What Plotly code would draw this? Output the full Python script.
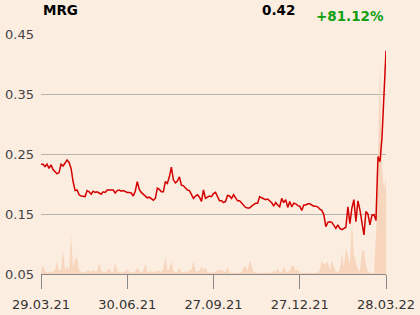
import plotly.graph_objects as go

ticker = "MRG"
last_price = "0.42"
change = "+81.12%"
tick_labels = ["29.03.21", "30.06.21", "27.09.21", "27.12.21", "28.03.22"]
y_ticks = [0.05, 0.15, 0.25, 0.35, 0.45]

price = [
    0.233, 0.233, 0.229, 0.233, 0.226, 0.232, 0.224, 0.220, 0.217, 0.219,
    0.233, 0.230, 0.236, 0.240, 0.236, 0.226, 0.204, 0.189, 0.190, 0.182,
    0.180, 0.179, 0.179, 0.189, 0.187, 0.183, 0.188, 0.186, 0.187, 0.185,
    0.183, 0.187, 0.186, 0.190, 0.190, 0.191, 0.190, 0.185, 0.189, 0.190,
    0.188, 0.189, 0.187, 0.186,
    0.186, 0.185, 0.180, 0.188, 0.204, 0.191, 0.186, 0.183, 0.180, 0.177,
    0.178, 0.175, 0.173, 0.176, 0.193, 0.191, 0.187, 0.187, 0.204, 0.201,
    0.212, 0.228, 0.207, 0.202, 0.205, 0.212, 0.198, 0.197, 0.193, 0.190,
    0.189, 0.183, 0.176, 0.180, 0.182, 0.178, 0.171, 0.190, 0.176, 0.178,
    0.180, 0.179, 0.184,
    0.186, 0.178, 0.172, 0.172, 0.169, 0.171, 0.181, 0.180, 0.176, 0.182,
    0.176, 0.172, 0.172, 0.168, 0.164, 0.161, 0.160, 0.160, 0.163, 0.165,
    0.168, 0.168, 0.179, 0.177, 0.176, 0.174, 0.175, 0.172, 0.169, 0.163,
    0.169, 0.165, 0.162, 0.176, 0.169, 0.174, 0.161, 0.171, 0.162, 0.168,
    0.167, 0.164, 0.163, 0.156, 0.165, 0.165,
    0.167, 0.167, 0.165, 0.163, 0.163, 0.162, 0.158, 0.156, 0.149, 0.129,
    0.136, 0.137, 0.136, 0.130, 0.126, 0.132, 0.126, 0.124, 0.126, 0.128,
    0.162, 0.134, 0.160, 0.174, 0.137, 0.172, 0.157, 0.132, 0.115, 0.154,
    0.150, 0.132, 0.148, 0.149, 0.139, 0.246, 0.237, 0.277, 0.350, 0.422,
]

volume = [
    0.10, 0.38, 0.12, 0.06, 0.08, 0.07, 0.09, 0.15, 0.54, 0.12,
    0.20, 1.00, 0.15, 0.30, 0.18, 1.62, 0.25, 0.62, 0.67, 0.15,
    0.08, 0.06, 0.07, 0.12, 0.15, 0.08, 0.18, 0.10, 0.12, 0.46,
    0.15, 0.08, 0.06, 0.15, 0.25, 0.10, 0.07, 0.46, 0.12, 0.08,
    0.06, 0.10, 0.08, 0.20, 0.06, 0.05, 0.08, 0.10, 0.25, 0.12,
    0.06, 0.15, 0.42, 0.10, 0.08, 0.12, 0.06, 0.10, 0.15, 0.12,
    0.08, 0.20, 0.70, 0.15, 0.20, 0.54, 0.12, 0.08, 0.10, 0.25,
    0.08, 0.06, 0.12, 0.08, 0.15, 0.20, 0.54, 0.15, 0.10, 0.12,
    0.30, 0.20, 0.25, 0.08, 0.06, 0.05, 0.06, 0.08, 0.18, 0.12,
    0.20, 0.10, 0.08, 0.30, 0.06, 0.04, 0.04, 0.05, 0.04, 0.05,
    0.08, 0.28, 0.33, 0.10, 0.58, 0.35, 0.08, 0.05, 0.04, 0.03,
    0.04, 0.05, 0.06, 0.04, 0.05, 0.06, 0.12, 0.08, 0.25, 0.08,
    0.06, 0.30, 0.10, 0.08, 0.15, 0.33, 0.33, 0.12, 0.20, 0.06,
    0.04, 0.03, 0.04, 0.05, 0.04, 0.03, 0.04, 0.05, 0.06, 0.15,
    0.55, 0.40, 0.45, 0.50, 0.15, 0.58, 0.30, 0.10, 0.08, 0.20,
    0.87, 0.30, 1.08, 0.80, 0.35, 2.25, 0.80, 0.50, 0.20, 0.10,
    0.95, 1.00, 0.40, 0.08, 0.05, 0.04, 0.05, 1.60, 4.60, 8.83,
    4.46, 3.50, 4.04,
]

n = len(price)
x = list(range(n))
tickvals = [round(k * (n - 1) / 4) for k in range(5)]

bg = "#fcede1"
font_family = "DejaVu Sans"

fig = go.Figure()
# volume on main (hidden) axis, drawn underneath
fig.add_trace(go.Scatter(
    x=x, y=volume, yaxis="y", mode="lines",
    line=dict(width=0, color="rgba(0,0,0,0)"),
    fill="tozeroy", fillcolor="#f7d6bd", hoverinfo="skip",
))
# price on overlaying axis, drawn on top
fig.add_trace(go.Scatter(
    x=x, y=price, yaxis="y2", mode="lines",
    line=dict(color="#d40000", width=1.5),
))

fig.update_layout(
    width=420, height=315,
    margin=dict(l=41, r=34, t=34, b=41, autoexpand=False),
    paper_bgcolor=bg, plot_bgcolor=bg,
    showlegend=False,
    font=dict(family=font_family, size=13, color="#333333"),
    xaxis=dict(
        range=[0, n - 1], tickvals=tickvals, ticktext=tick_labels,
        ticks="outside", ticklen=14, tickcolor="#888888", tickwidth=1,
        showline=True, linecolor="#888888", linewidth=1,
        showgrid=False, zeroline=False, automargin=False,
        ticklabelstandoff=4,
        tickfont=dict(size=13, color="#333333"),
    ),
    yaxis=dict(range=[0, 10], visible=False, showgrid=False, zeroline=False,
               automargin=False),
    yaxis2=dict(
        overlaying="y", side="left",
        range=[0.05, 0.45], tickvals=y_ticks,
        ticktext=[f"{v:.2f}" for v in y_ticks],
        showgrid=True, gridcolor="#b8b4b0", gridwidth=1,
        zeroline=False, showline=False, automargin=False,
        ticklabelstandoff=6,
        tickfont=dict(size=13, color="#444444"),
    ),
    annotations=[
        dict(text=f"<b>{ticker}</b>", xref="paper", yref="paper",
             x=0, y=1.1, xanchor="left", yanchor="middle", showarrow=False,
             font=dict(family=font_family, size=13.5, color="#000000")),
        dict(text=f"<b>{last_price}</b>", xref="paper", yref="paper",
             x=0.742, y=1.1, xanchor="right", yanchor="middle", showarrow=False,
             font=dict(family=font_family, size=13.5, color="#000000")),
        dict(text=f"<b>{change}</b>", xref="paper", yref="paper",
             x=0.999, y=1.075, xanchor="right", yanchor="middle", showarrow=False,
             font=dict(family=font_family, size=13.5, color="#12a012")),
    ],
)

fig.write_html("out.html")
